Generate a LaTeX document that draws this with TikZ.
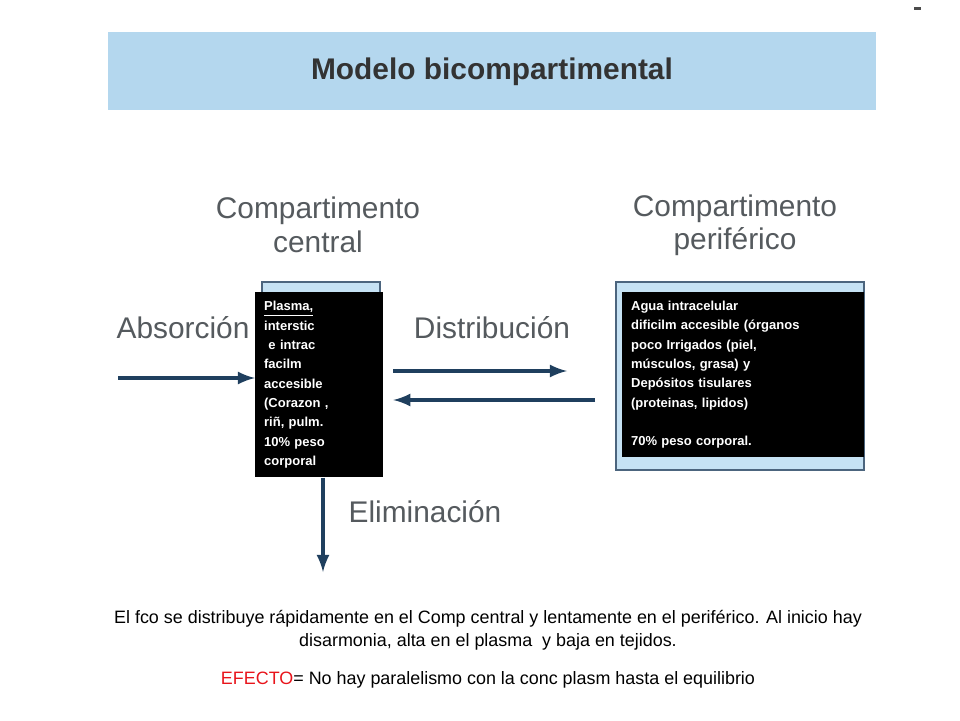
\documentclass[tikz,border=0pt]{standalone}
\usepackage{fontspec}
\setmainfont{Liberation Sans}
\usepackage{tikz}
\definecolor{barblue}{HTML}{B4D7EE}
\definecolor{frameblue}{HTML}{C6E2F4}
\definecolor{arrowblue}{HTML}{1F3F5E}
\definecolor{labelgray}{HTML}{555A5E}
\definecolor{efectored}{HTML}{E8141B}

\begin{document}
\begin{tikzpicture}[x=0.02cm,y=-0.02cm,>=latex]
    \tikzstyle{every node}=[inner sep=0pt];
    \tikzstyle{gray label}=[text=labelgray,font=\fontsize{17}{19}\selectfont,align=center];
    \tikzstyle{black box}=[fill=black,text=white,font=\bfseries\fontsize{7.4}{11}\selectfont,align=left,anchor=north west,inner sep=5pt];
    \tikzstyle{flow}=[draw=arrowblue,line width=2.3pt,->];

    \useasboundingbox (0,0) rectangle (960,720);
    \fill[black!70] (914,7) rectangle (921,10);

    % title bar
    \fill[barblue] (108,32) rectangle (876,110);
    \node (title) at (492,72) {\bfseries\color{black!80}\fontsize{17}{19}\selectfont Modelo bicompartimental};

    % compartment headings
    \node[gray label] (hc) at (318,225) {Compartimento\\central};
    \node[gray label] (hp) at (735,225) {Compartimento\\periférico};

    % frames
    \draw[fill=frameblue,draw=arrowblue!80,line width=1.2pt] (262,282) rectangle (380,448);
    \draw[fill=frameblue,draw=arrowblue!80,line width=1.2pt] (616,282) rectangle (864,470);

    \node[black box,minimum width=120*0.02cm,minimum height=185*0.02cm,text width=110*0.02cm] (central) at (255,292)
      {\underline{Plasma,}\\interstic\\ \ e intrac\\facilm\\accesible\\(Corazon ,\\riñ, pulm.\\10\% peso\\corporal};
    \node[black box,minimum width=234*0.02cm,minimum height=165*0.02cm,text width=224*0.02cm] (periph) at (622,292)
      {Agua intracelular\\dificilm  accesible (órganos\\poco Irrigados (piel,\\músculos, grasa) y\\Depósitos tisulares\\(proteinas, lipidos)\\[11pt]70\% peso corporal.};

    % flow labels
    \node[gray label] (abs) at (183,328) {Absorción};
    \node[gray label] (dist) at (492,328) {Distribución};
    \node[gray label] (elim) at (425,512) {Eliminación};

    \coordinate (absin) at (118,378);
    \coordinate (elimout) at (323,572);
    \coordinate (periin) at (567,371);
    \coordinate (periout) at (595,400);

    \draw[flow] (absin) -- (absin -| central.west);
    \draw[flow] (central.east |- periin) ++(10,0) -- (periin);
    \draw[flow] (periout) -- ([xshift=10*0.02cm]central.east |- periout);
    \draw[flow] (central.south -| elimout) -- (elimout);

    % bottom text
    \node[font=\fontsize{10.2}{13}\selectfont,align=center] (note) at (488,630)
      {El fco se distribuye rápidamente en el Comp central y lentamente en el periférico. Al inicio hay\\disarmonia, alta en el plasma \ y baja en tejidos.};
    \node[font=\fontsize{10.2}{13}\selectfont] (efecto) at (488,680)
      {\textcolor{efectored}{EFECTO}= No hay paralelismo con la conc plasm hasta el equilibrio};
\end{tikzpicture}
\end{document}
